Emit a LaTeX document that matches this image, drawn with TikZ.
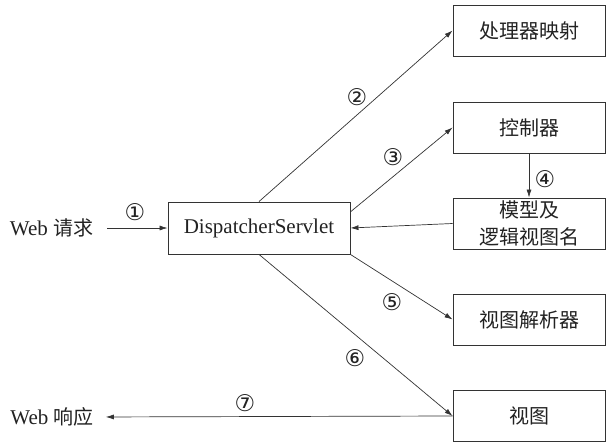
\documentclass[tikz,border=0pt]{standalone}
\usepackage{fontspec}
\setmainfont{Liberation Serif}
\newfontfamily\cjkfont{Noto Sans CJK SC}
\newfontfamily\circfont{DejaVu Sans}
\usetikzlibrary{arrows.meta}
\definecolor{ink}{HTML}{222222}
\definecolor{linec}{HTML}{333333}
\tikzset{
  box/.style={draw=linec, line width=0.9pt, minimum width=152pt, minimum height=51pt,
    inner sep=0pt, align=center, text=ink, font=\cjkfont\fontsize{20}{27}\selectfont},
  dsbox/.style={draw=linec, line width=0.9pt, minimum width=182pt, minimum height=52pt,
    inner sep=0pt, text=ink, font=\fontsize{21}{25}\selectfont},
  side/.style={inner sep=0pt, text=ink, font=\fontsize{21}{25}\selectfont},
  num/.style={inner sep=0pt, text=ink, font=\circfont\fontsize{23}{25}\selectfont},
  conn/.style={draw=linec, line width=0.7pt, -{Latex[length=8pt,width=5pt]}}
}
\begin{document}
\begin{tikzpicture}[x=1pt,y=-1pt]
\useasboundingbox (0,0) rectangle (609,446);
\node[box] (hm) at (529,30.5) {处理器映射};
\node[box] (ctrl) at (529,127.5) {控制器};
\node[box] (model) at (529,223.5) {模型及\\逻辑视图名};
\node[box] (vr) at (529,319.5) {视图解析器};
\node[box] (view) at (529,416) {视图};
\node[dsbox] (ds) at (259,228) {DispatcherServlet};
\node[side] (req) at (51.5,228) {Web {\cjkfont\fontsize{20}{25}\selectfont 请求}};
\node[side] (resp) at (52,417) {Web {\cjkfont\fontsize{20}{25}\selectfont 响应}};
\draw[conn, shorten <=14pt] (req.east) -- (ds.west);
\draw[conn] (ds.north) -- (hm.west);
\draw[conn] (ds.10) -- (ctrl.west);
\draw[conn] (ctrl.south) -- (model.north);
\draw[conn] (model.west) -- (ds.east);
\draw[conn] (ds.south east) -- (vr.west);
\draw[conn] (ds.south) -- (view.west);
\draw[conn, shorten >=12pt] (view.west) -- (resp.east);
\node[num] (n1) at (135,212) {①};
\node[num] (n2) at (357,97) {②};
\node[num] (n3) at (393,157) {③};
\node[num] (n4) at (545,179) {④};
\node[num] (n5) at (392,302) {⑤};
\node[num] (n6) at (355,358) {⑥};
\node[num] (n7) at (245,403) {⑦};
\end{tikzpicture}
\end{document}
